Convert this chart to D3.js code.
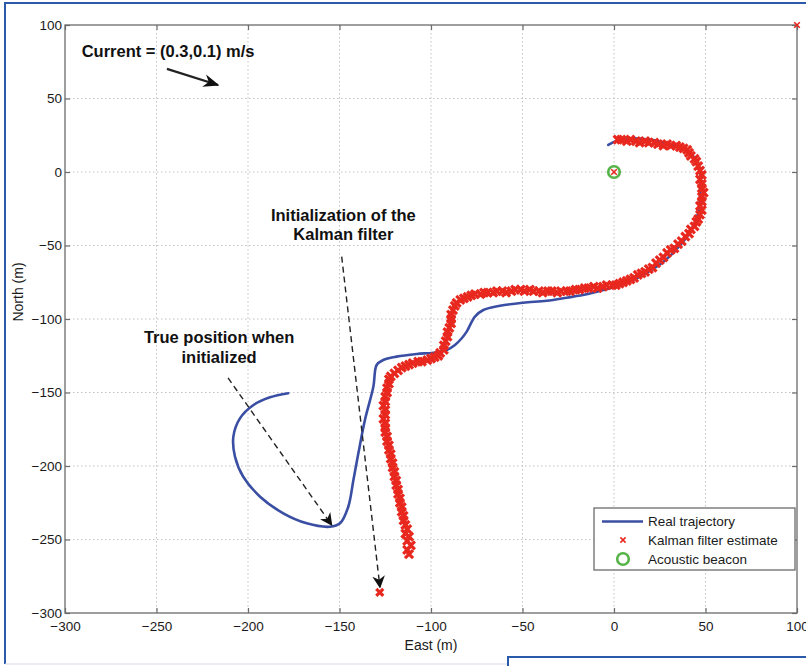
<!DOCTYPE html>
<html>
<head>
<meta charset="utf-8">
<script src="https://cdn.jsdelivr.net/npm/d3@7"></script>
<style>
  html, body { margin: 0; padding: 0; background: #fff; }
  svg { display: block; }
  text { font-family: "Liberation Sans", Arial, Helvetica, sans-serif; }
</style>
</head>
<body>
<svg id="chart" width="806" height="666"></svg>
<script>
// ---- data (metres, East / North) ----
const xTicks = [-300, -250, -200, -150, -100, -50, 0, 50, 100];
const yTicks = [-300, -250, -200, -150, -100, -50, 0, 50, 100];

// real vehicle trajectory
const realEast  = [-178, -188, -197, -204.4, -208, -207.1, -202.6, -193.4, -180.7, -167.9, -155.2, -149.7, -145.2, -142.4, -139.7, -136.1, -131.5, -129.7, -126.1, -118.8, -107.8, -98.7, -91.4, -86.9, -83.2, -80.5, -76, -71.4, -62.3, -49.6, -36.8, -25.8, -14.9, -5.8, 5.1, 12.4, 20, 28, 36, 42, 46, 47, 47, 45, 40, 32, 23.3, 17.9, 10.6, 1.5, -3.1];
const realNorth = [-150.5, -153.3, -158.5, -167.6, -180, -193.7, -207.3, -220.9, -232.2, -239, -241.3, -239, -227.7, -209.5, -191.4, -168.7, -146.1, -131.3, -127.9, -125.6, -123.8, -122.9, -121.1, -117.7, -113.1, -108.6, -98.4, -93.9, -91, -88.9, -87.6, -85.5, -83.2, -80.3, -76.2, -72.3, -67, -60, -50, -40, -28, -15, 0, 8, 14, 18, 21.3, 22.2, 22.9, 21.3, 18.4];

// Kalman filter position estimates
const kfEast = [
  -112, -113, -111, -113, -112, -114, -113, -114, -115, -115, -116, -116, -117, -117, -118, -118,
  -119, -119, -120, -120, -121, -121, -122, -122, -123, -123, -124, -124, -125, -125, -125, -126,
  -125, -125, -126, -125, -125, -124, -124, -123, -123, -122, -120, -118, -116, -114, -112, -110,
  -107, -105, -102, -100, -98, -96, -95, -93, -93, -92, -91, -91, -90, -89, -89, -89, -88, -87,
  -86, -84, -82, -80, -78, -76, -73, -71, -69, -66, -64, -61, -59, -56, -54, -51, -49, -46, -44,
  -41, -39, -36, -34, -31, -29, -26, -24, -21, -19, -16, -14, -11, -9, -6, -4, -1, 1, 3, 5, 7, 9,
  11, 13, 15, 17, 19, 21, 23, 25, 27, 29, 31, 33, 35, 37, 39, 41, 42, 44, 45, 46, 47, 48, 47, 48,
  48, 49, 48, 48, 47, 48, 47, 46, 45, 44, 42, 41, 40, 38, 36, 34, 31, 29, 27, 24, 22, 19, 17, 14,
  12, 9, 7, 4, 2];
const kfNorth = [
  -260, -257, -254, -251, -248, -246, -243, -240, -237, -234, -231, -228, -225, -222, -219, -216,
  -213, -210, -207, -204, -201, -198, -195, -192, -189, -186, -183, -180, -177, -174, -171, -168,
  -165, -162, -159, -156, -153, -150, -147, -144, -141, -139, -137, -135, -133, -132, -131, -130,
  -129, -129, -128, -127, -126, -125, -123, -121, -118, -115, -112, -109, -106, -103, -100, -97, -94, -91,
  -89, -87, -86, -85, -84, -83, -83, -82, -82, -82, -81, -81, -82, -81, -80, -80, -81, -80, -81,
  -81, -82, -81, -81, -82, -81, -81, -81, -80, -80, -79, -79, -78, -79, -78, -77, -77, -77, -76, -75, -74, -73,
  -72, -70, -69, -68, -66, -65, -62, -60, -58, -55, -53, -52, -49, -47, -44, -42, -39, -37, -34, -32, -29, -26, -23, -20,
  -17, -14, -11, -8, -5, -2, 1, 4, 7, 9, 11, 13, 15, 16, 17, 18, 18, 19, 18, 19, 20, 20, 21, 20,
  21, 22, 21, 22, 22];
// isolated estimates: initial estimate, at the beacon, and the clipped corner one
const kfExtraEast  = [-128, 0, 100];
const kfExtraNorth = [-286, 0, 100];

// acoustic beacon
const beaconEast = [0];
const beaconNorth = [0];

const legendLabels = ["Real trajectory", "Kalman filter estimate", "Acoustic beacon"];

// ---- layout ----
const svg = d3.select("#chart");
const x = d3.scaleLinear().domain([-300, 100]).range([65, 797]);
const y = d3.scaleLinear().domain([-300, 100]).range([613, 25]);
const X0 = x.range()[0], X1 = x.range()[1], Y0 = y.range()[1], Y1 = y.range()[0];

const C = {
  blue: "#3a4fa3", red: "#e8281e", green: "#55b347",
  axis: "#6b6b6b", grid: "#c2c2c2", text: "#1a1a1a", frame: "#2a5bab"
};

// page frame
svg.append("line").attr("x1", 5).attr("y1", 2).attr("x2", 5).attr("y2", 664)
  .attr("stroke", C.frame).attr("stroke-width", 2);
svg.append("line").attr("x1", 4).attr("y1", 3).attr("x2", 806).attr("y2", 3)
  .attr("stroke", C.frame).attr("stroke-width", 2);
svg.append("line").attr("x1", 5).attr("y1", 664).attr("x2", 507).attr("y2", 664)
  .attr("stroke", "#d6dbe6").attr("stroke-width", 1);
svg.append("polyline").attr("points", "508,666 508,657 806,657")
  .attr("fill", "none").attr("stroke", C.frame).attr("stroke-width", 2);

// grid
const grid = svg.append("g");
xTicks.slice(1, -1).forEach(v => grid.append("line")
  .attr("x1", x(v)).attr("x2", x(v)).attr("y1", Y0).attr("y2", Y1)
  .attr("stroke", C.grid).attr("stroke-dasharray", "1.5,2.5"));
yTicks.slice(1, -1).forEach(v => grid.append("line")
  .attr("y1", y(v)).attr("y2", y(v)).attr("x1", X0).attr("x2", X1)
  .attr("stroke", C.grid).attr("stroke-dasharray", "1.5,2.5"));

// axes (ticks pointing inward, on all four sides)
const fmt = d3.format("d");
function styleAxis(g) {
  g.select(".domain").remove();
  g.selectAll(".tick line").attr("stroke", C.axis).attr("stroke-width", 1.2);
  g.selectAll(".tick text").attr("fill", C.text).style("font-size", "13.5px");
}
svg.append("g").attr("transform", `translate(0,${Y1})`)
  .call(d3.axisBottom(x).tickValues(xTicks).tickFormat(fmt).tickSize(-5).tickPadding(8))
  .call(styleAxis);
svg.append("g").attr("transform", `translate(0,${Y0})`)
  .call(d3.axisTop(x).tickValues(xTicks).tickFormat("").tickSize(-5))
  .call(styleAxis);
svg.append("g").attr("transform", `translate(${X0},0)`)
  .call(d3.axisLeft(y).tickValues(yTicks).tickFormat(fmt).tickSize(-5).tickPadding(3))
  .call(styleAxis);
svg.append("g").attr("transform", `translate(${X1},0)`)
  .call(d3.axisRight(y).tickValues(yTicks).tickFormat("").tickSize(-5))
  .call(styleAxis);
svg.append("rect").attr("x", X0).attr("y", Y0).attr("width", X1 - X0).attr("height", Y1 - Y0)
  .attr("fill", "none").attr("stroke", C.axis).attr("stroke-width", 1.3);

// axis titles
svg.append("text").attr("x", (X0 + X1) / 2).attr("y", 650).attr("text-anchor", "middle")
  .attr("fill", C.text).style("font-size", "14px").text("East (m)");
svg.append("text").attr("transform", "translate(23,292) rotate(-90)").attr("text-anchor", "middle")
  .attr("fill", C.text).style("font-size", "14px").text("North (m)");

// real trajectory
const realPts = realEast.map((e, i) => [e, realNorth[i]]);
svg.append("path").datum(realPts)
  .attr("d", d3.line().x(d => x(d[0])).y(d => y(d[1])).curve(d3.curveCatmullRom.alpha(0.5)))
  .attr("fill", "none").attr("stroke", C.blue).attr("stroke-width", 2.6)
  .attr("stroke-linecap", "round").attr("stroke-linejoin", "round");

// Kalman estimates as x markers
function xMark(s) { return `M${-s},${-s}L${s},${s}M${-s},${s}L${s},${-s}`; }
const kfPts = kfEast.map((e, i) => [e, kfNorth[i]]);
svg.append("g").selectAll("path").data(kfPts).join("path")
  .attr("transform", d => `translate(${x(d[0])},${y(d[1])})`)
  .attr("d", xMark(4)).attr("stroke", C.red).attr("stroke-width", 3.2).attr("fill", "none");

// acoustic beacon
svg.append("g").selectAll("circle").data(beaconEast.map((e, i) => [e, beaconNorth[i]])).join("circle")
  .attr("cx", d => x(d[0])).attr("cy", d => y(d[1])).attr("r", 5.8)
  .attr("fill", "none").attr("stroke", C.green).attr("stroke-width", 2.6);

const extraPts = kfExtraEast.map((e, i) => [e, kfExtraNorth[i]]);
svg.append("g").selectAll("path").data(extraPts).join("path")
  .attr("transform", d => `translate(${x(d[0])},${y(d[1])})`)
  .attr("d", (d, i) => xMark(i === 0 ? 3.5 : 2.8))
  .attr("stroke", C.red).attr("stroke-width", (d, i) => i === 0 ? 3.2 : 1.6).attr("fill", "none");

// annotations
const defs = svg.append("defs");
defs.append("marker").attr("id", "headSolid").attr("viewBox", "0 0 10 10")
  .attr("refX", 9).attr("refY", 5).attr("markerWidth", 7).attr("markerHeight", 7)
  .attr("markerUnits", "strokeWidth").attr("orient", "auto")
  .append("path").attr("d", "M0,1 L10,5 L0,9 L3,5 Z").attr("fill", "#111");
defs.append("marker").attr("id", "headDash").attr("viewBox", "0 0 10 10")
  .attr("refX", 9).attr("refY", 5).attr("markerWidth", 9).attr("markerHeight", 9)
  .attr("markerUnits", "strokeWidth").attr("orient", "auto")
  .append("path").attr("d", "M0,0 L10,5 L0,10 L3,5 Z").attr("fill", "#111");

const notes = [
  { lines: ["Current = (0.3,0.1) m/s"], e: -290.9, n: 78, anchor: "start" },
  { lines: ["Initialization of the", "Kalman filter"], e: -147.9, n: -33.1, anchor: "middle" },
  { lines: ["True position when", "initialized"], e: -215.8, n: -116.5, anchor: "middle" }
];
notes.forEach(nt => {
  const t = svg.append("text").attr("x", x(nt.e)).attr("y", y(nt.n))
    .attr("text-anchor", nt.anchor).attr("fill", "#111")
    .style("font-size", "16.5px").style("font-weight", "bold");
  nt.lines.forEach((s, i) => t.append("tspan").attr("x", x(nt.e)).attr("dy", i ? 19.3 : 0).text(s));
});

const arrows = [
  { from: [-244.3, 70.1], to: [-216.4, 59.2], dash: null, w: 2.3, head: "headSolid" },
  { from: [-148.8, -57.6], to: [-127.9, -282.5], dash: "6,4", w: 1.4, head: "headDash" },
  { from: [-210.9, -140.1], to: [-154.3, -240.1], dash: "6,4", w: 1.4, head: "headDash" }
];
arrows.forEach(a => svg.append("line")
  .attr("x1", x(a.from[0])).attr("y1", y(a.from[1]))
  .attr("x2", x(a.to[0])).attr("y2", y(a.to[1]))
  .attr("stroke", "#222").attr("stroke-width", a.w)
  .attr("stroke-dasharray", a.dash).attr("marker-end", `url(#${a.head})`));

// legend
const lg = svg.append("g").attr("transform", "translate(594,508)");
lg.append("rect").attr("width", 201).attr("height", 62).attr("fill", "#fff")
  .attr("stroke", C.axis).attr("stroke-width", 1.3);
const rowY = [13.5, 32, 51];
lg.append("line").attr("x1", 8).attr("x2", 49).attr("y1", rowY[0]).attr("y2", rowY[0])
  .attr("stroke", C.blue).attr("stroke-width", 2.6);
lg.append("path").attr("transform", `translate(29,${rowY[1]})`).attr("d", xMark(2.6))
  .attr("stroke", C.red).attr("stroke-width", 1.5);
lg.append("circle").attr("cx", 29).attr("cy", rowY[2]).attr("r", 5.8)
  .attr("fill", "none").attr("stroke", C.green).attr("stroke-width", 2.6);
legendLabels.forEach((s, i) => lg.append("text").attr("x", 54).attr("y", rowY[i] + 4.5)
  .attr("fill", C.text).style("font-size", "13.5px").text(s));
</script>
</body>
</html>
